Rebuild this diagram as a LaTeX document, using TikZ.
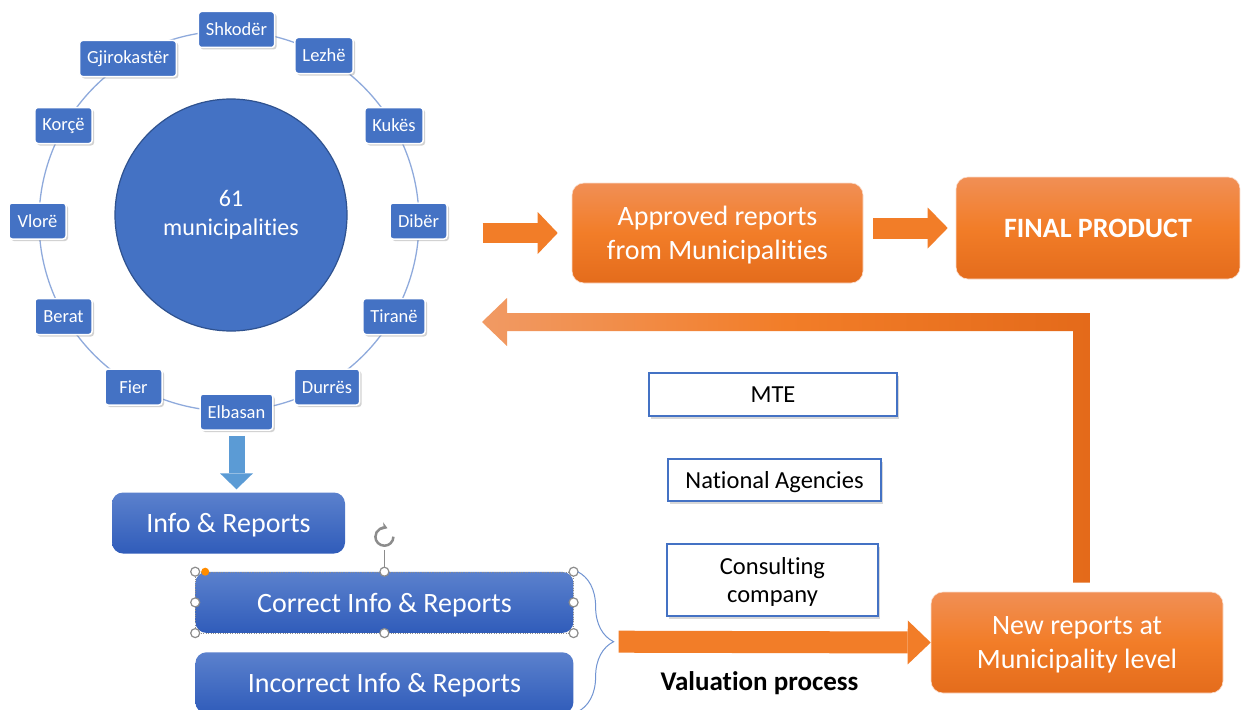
\documentclass[tikz,border=0pt]{standalone}
\usepackage{fontspec}
\setmainfont{Carlito}[Ligatures=NoCommon]
\usetikzlibrary{positioning,calc,shadows,arrows.meta,decorations.pathreplacing}

\definecolor{cityblue}{HTML}{4472C4}
\definecolor{hubedge}{HTML}{2F528F}
\definecolor{ringblue}{HTML}{8FAADC}
\definecolor{boxtop}{HTML}{5B81CD}
\definecolor{boxbot}{HTML}{305CBA}
\definecolor{arrowblue}{HTML}{5B9BD5}
\definecolor{ortop}{HTML}{F18F55}
\definecolor{ormid}{HTML}{F27D28}
\definecolor{orbot}{HTML}{E46C1C}
\definecolor{orlight}{HTML}{F19A64}
\definecolor{ordark}{HTML}{E46A1A}
\definecolor{handlegray}{HTML}{8C8C8C}

\tikzset{%
  every city/.style={
    rectangle,
    rounded corners=3pt,
    fill=cityblue,
    draw=white,
    line width=1.5pt,
    text=white,
    font=\fontsize{18.5}{22}\selectfont,
    minimum width=57pt,
    minimum height=36pt,
    inner xsep=7.5pt,
    drop shadow={shadow xshift=2pt, shadow yshift=-2pt, opacity=0.35}
  },
  hub/.style={
    circle,
    fill=cityblue,
    draw=hubedge,
    line width=1.2pt,
    minimum size=232pt,
    inner sep=0pt,
    text=white,
    align=center,
    font=\fontsize{24}{29}\selectfont
  },
  report box/.style={
    rectangle,
    rounded corners=11pt,
    top color=boxtop,
    bottom color=boxbot,
    text=white,
    font=\fontsize{28}{34}\selectfont,
    text depth=0pt,
    minimum height=61pt,
    inner sep=0pt
  },
  result box/.style={
    rectangle,
    rounded corners=12pt,
    top color=ortop,
    bottom color=orbot,
    middle color=ormid,
    draw=white!70!ortop,
    line width=0.6pt,
    text=white,
    align=center,
    font=\fontsize{28}{34}\selectfont,
    text depth=0pt,
    inner sep=0pt
  },
  agency box/.style={
    rectangle,
    fill=white,
    draw=cityblue,
    line width=2pt,
    align=center,
    font=\fontsize{24.5}{28.5}\selectfont,
    text depth=0pt,
    inner sep=0pt,
    drop shadow={shadow xshift=2pt, shadow yshift=-2.5pt, opacity=0.3}
  },
  fat arrow/.style={
    draw=ormid,
    line width=20pt,
    -{Triangle[length=20pt 0 0, width=42pt 0 0, line width=0pt]}
  },
  return arrow/.style={
    left color=orlight,
    right color=ordark,
    middle color=ormid
  },
  handle/.style={
    draw=handlegray,
    fill=white,
    line width=1.2pt
  },
}

\begin{document}
\begin{tikzpicture}[x=1pt, y=-1pt]
\path[use as bounding box, fill=white] (0,0) rectangle (1241,709);

% ring of municipalities
\coordinate (ring) at (229,221);
\draw [ringblue, line width=1.3pt] (ring) circle [radius=190];

\node [hub] (hub) at (231,215) {61\\municipalities};

\foreach \n/\l/\x/\y in {shk/Shkodër/236.5/29.5, lez/Lezhë/324/55.5,
    kuk/Kukës/394/125.5, dib/Dibër/418.5/221, tir/Tiranë/394/316.5,
    dur/Durrës/327/387, elb/Elbasan/236.5/412, fie/Fier/133.5/387,
    ber/Berat/63.5/316.5, vlo/Vlorë/37.5/221, kor/Korçë/63.5/125.5,
    gji/Gjirokastër/128/58.5}
  \node [every city] (\n) at (\x,\y) {\l};

% reports from the municipalities
\node [report box, minimum width=233pt] (info) at (228.5,523) {Info \& Reports};
\node [report box, minimum width=378pt, below right=18pt and -150pt of info] (correct) {Correct Info \& Reports};
\node [report box, minimum width=378pt, below=19pt of correct] (incorrect) {Incorrect Info \& Reports};

\draw [fat arrow, draw=arrowblue, line width=16pt,
  -{Triangle[length=16pt 0 0, width=33pt 0 0, line width=0pt]}]
  ([yshift=-5pt]elb.south) -- ([yshift=3pt]elb.south |- info.north);

% selection handles
\draw [dotted, handlegray] (correct.north west) rectangle (correct.south east);
\draw [handlegray, line width=1pt] (correct.north) -- ++(0,-22) coordinate (rot);
\draw [handlegray, line width=2.5pt, -{Stealth[length=6pt 0 0, width=8pt 0 0]}]
  ($(rot)+(9,-13)$) arc [start angle=0, end angle=290, radius=9];
\foreach \a in {north west, north, north east, west, east, south west, south, south east}
  \draw [handle] (correct.\a) circle [radius=4.5];
\fill [orange!90!yellow] ([xshift=10pt]correct.north west) circle [radius=4];

% valuation
\node [result box, minimum width=291pt, minimum height=100pt] (approved) at (717.5,233)
  {Approved reports\\from Municipalities};
\node [result box, minimum width=284pt, minimum height=102pt, font=\fontsize{28}{34}\selectfont\bfseries]
  (final) at (1098,228) {FINAL PRODUCT};
\node [result box, minimum width=292pt, minimum height=101pt] (newrep) at (1077,642.5)
  {New reports at\\Municipality level};

\node [agency box, minimum width=248pt, minimum height=43pt] (mte) at (773,394.5) {MTE};
\node [agency box, minimum width=213pt, minimum height=42pt] (nat) at (774.5,480) {National Agencies};
\node [agency box, minimum width=211pt, minimum height=72pt] (cons) at (772.5,580) {Consulting\\company};

\node [font=\fontsize{27}{32}\selectfont\bfseries] (val) at (759.5,683) {Valuation process};

\draw [ringblue!60!cityblue, line width=1pt, decorate, decoration={brace, amplitude=36pt}]
  ([xshift=4pt]correct.north east) -- ++(0,140);
\coordinate (brace tip) at ($(correct.north east)+(40,70)$);

\draw [fat arrow] ([xshift=-89pt]approved.west) -- ([xshift=-14pt]approved.west);
\draw [fat arrow, line width=21pt, -{Triangle[length=20pt 0 0, width=41pt 0 0, line width=0pt]}]
  ($(approved.east |- final.west)+(10,0)$) -- ([xshift=-8pt]final.west);
\draw [fat arrow, line width=22pt, -{Triangle[length=23pt 0 0, width=44pt 0 0, line width=0pt]}]
  ([xshift=5pt]brace tip) -- (newrep.west);

\coordinate (ret foot) at ($(newrep.north)+(4.5,-9)$);
\coordinate (ret tip) at (482,322);
\shade [return arrow] ($(ret foot)+(8.5,0)$) |- ($(ret tip)+(25,-9)$) -- ++(0,-15) -- (ret tip)
  -- ++(25,24) -- ++(0,-15) -| ($(ret foot)+(-8.5,0)$) -- cycle;

\end{tikzpicture}
\end{document}
